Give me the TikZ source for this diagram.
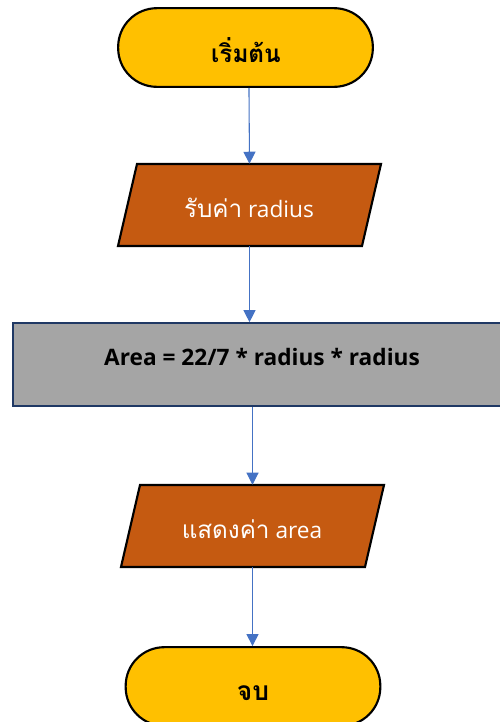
\documentclass[tikz,border=0pt]{standalone}
\usepackage{fontspec}
\setmainfont{Open Sans}
\newfontfamily\thaifont[Script=Thai,Scale=1.07]{Loma}
\usetikzlibrary{arrows.meta}
\definecolor{termyellow}{HTML}{FFC000}
\definecolor{ioorange}{HTML}{C55A11}
\definecolor{procgrey}{HTML}{A5A5A5}
\definecolor{procborder}{HTML}{1F3864}
\definecolor{arrowblue}{HTML}{4472C4}
\tikzset{
  terminal/.style={draw=black, fill=termyellow, line width=1.6pt, rounded corners=29pt,
    minimum width=191pt, minimum height=59pt, inner sep=0pt},
  termlabel/.style={inner sep=0pt, font=\fontsize{17}{20}\selectfont\thaifont\bfseries},
  iobox/.style={fill=ioorange, draw=black, line width=1.6pt},
  iolabel/.style={text=white, font=\fontsize{17}{20}\selectfont, inner sep=0pt},
  procbox/.style={draw=procborder, fill=procgrey, line width=1.5pt, minimum width=373.5pt, minimum height=62pt, inner sep=0pt},
  proclabel/.style={font=\fontsize{17}{20}\selectfont\bfseries, inner sep=0pt},
  flow/.style={draw=arrowblue, line width=0.8pt, -{Triangle[width=9pt,length=9pt]}},
  anchorbox/.style={inner sep=0pt, minimum width=183pt, minimum height=61.5pt}
}
\begin{document}
\begin{tikzpicture}[x=0.75pt,y=-0.75pt]
\clip (0,0) rectangle (500,722);
\fill[white] (0,0) rectangle (500,722);
% start
\node[terminal] (start) at (245.5,47.5) {};
\node[termlabel] (starttext) at (246,50) {เริ่มต้น};
% input parallelogram
\fill[iobox] (137,164) -- (381,164) -- (362,246) -- (118,246) -- cycle;
\node[anchorbox] (input) at (249.5,205) {};
\node[iolabel] (inputtext) at (249,208) {{\thaifont รับค่า} radius};
% process
\node[procbox] (proc) at (262,364.5) {};
\node[proclabel] (proctext) at (262,357) {Area = 22/7 * radius * radius};
% output parallelogram
\fill[iobox] (140,485) -- (384,485) -- (365,567) -- (121,567) -- cycle;
\node[anchorbox] (output) at (252.5,526) {};
\node[iolabel] (outputtext) at (252,529) {{\thaifont แสดงค่า} area};
% end
\node[terminal] (stop) at (253,686.5) {};
\node[termlabel, font=\fontsize{18.5}{20}\selectfont\thaifont\bfseries] (stoptext) at (253,693) {จบ};
% connectors
\draw[flow] ([xshift=2.6pt]start.south) -- (input.north);
\draw[flow] (input.south) -- (input.south |- proc.north);
\draw[flow] (output.north |- proc.south) -- (output.north);
\draw[flow] (output.south) -- (output.south |- stop.north);
\end{tikzpicture}
\end{document}
